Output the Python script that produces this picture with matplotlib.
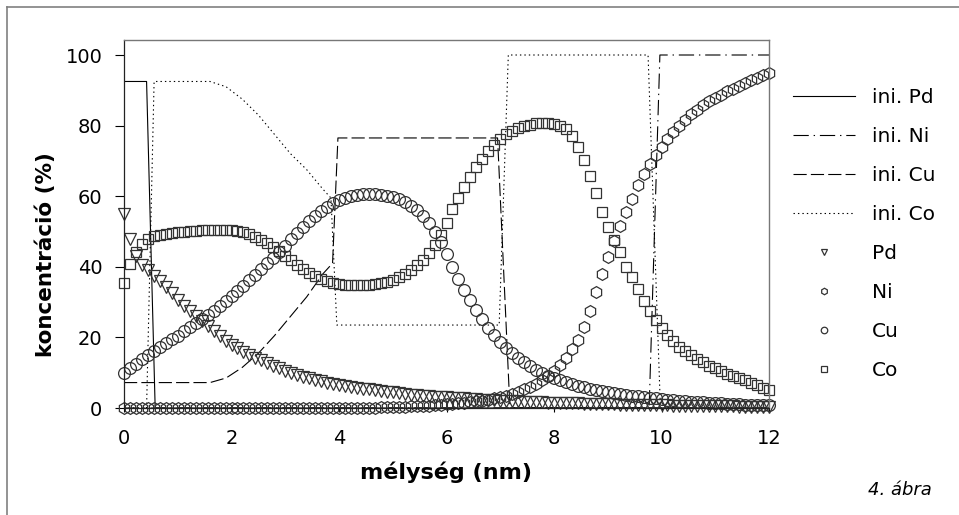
import numpy as np
import matplotlib
matplotlib.use("Agg")
import matplotlib.pyplot as plt
from matplotlib.lines import Line2D

plt.rcParams['font.family'] = ['DejaVu Sans']
plt.rcParams['lines.scale_dashes'] = False

# depth grid of the simulation (12 nm, step 1/9 nm)
depth = np.linspace(0, 12, 109)

# simulated profiles, one row of 9 values per nm, last value at 12 nm
pd_conc = [55.0, 48.0, 43.0, 40.5, 39.0, 37.5, 36.0, 34.3, 32.5,
           30.6, 29.0, 27.5, 26.0, 24.6, 23.2, 21.8, 20.4, 19.0,
           17.8, 16.9, 16.0, 15.1, 14.3, 13.5, 12.7, 12.0, 11.3,
           10.6, 10.0, 9.4, 8.9, 8.4, 8.0, 7.6, 7.2, 6.8,
           6.6, 6.3, 6.0, 5.8, 5.5, 5.3, 5.0, 4.8, 4.6,
           4.4, 4.2, 4.0, 3.8, 3.7, 3.5, 3.4, 3.2, 3.1,
           3.0, 2.9, 2.8, 2.7, 2.6, 2.5, 2.4, 2.3, 2.2,
           2.1, 2.0, 1.95, 1.9, 1.8, 1.75, 1.7, 1.6, 1.55,
           1.5, 1.45, 1.4, 1.35, 1.3, 1.25, 1.2, 1.15, 1.1,
           1.05, 1.0, 0.95, 0.9, 0.88, 0.85, 0.82, 0.8, 0.77,
           0.74, 0.71, 0.68, 0.65, 0.62, 0.6, 0.57, 0.55, 0.52,
           0.5, 0.48, 0.46, 0.44, 0.42, 0.4, 0.38, 0.36, 0.34,
           0.32]

ni_conc = [0, 0, 0, 0, 0, 0, 0, 0, 0,
           0, 0, 0, 0, 0, 0, 0, 0, 0,
           0, 0, 0, 0, 0, 0, 0, 0, 0,
           0, 0, 0, 0, 0, 0, 0, 0, 0,
           0, 0, 0, 0, 0.05, 0.1, 0.1, 0.15, 0.2,
           0.25, 0.3, 0.35, 0.45, 0.5, 0.6, 0.7, 0.8, 0.9,
           1.0, 1.15, 1.3, 1.45, 1.65, 1.85, 2.1, 2.4, 2.7,
           3.1, 3.5, 4.0, 4.6, 5.3, 6.0, 6.9, 7.9, 9.0,
           10.5, 12.2, 14.2, 16.6, 19.4, 23.0, 27.5, 33.0, 38.0,
           42.8, 47.2, 51.6, 55.6, 59.3, 63.1, 66.3, 69.0, 71.8,
           74.0, 76.1, 78.2, 80.0, 81.7, 83.2, 84.5, 85.8, 86.9,
           87.9, 88.8, 89.7, 90.5, 91.3, 92.0, 92.8, 93.5, 94.2,
           94.9]

cu_conc = [10.0, 11.3, 12.6, 13.9, 15.0, 16.2, 17.3, 18.4, 19.5,
           20.5, 21.7, 22.9, 24.0, 25.2, 26.4, 27.6, 28.9, 30.2,
           31.6, 33.1, 34.6, 36.2, 37.8, 39.4, 41.0, 42.6, 44.2,
           46.0, 47.8, 49.6, 51.3, 52.9, 54.4, 55.8, 57.0, 58.1,
           59.0, 59.6, 60.0, 60.3, 60.5, 60.6, 60.6, 60.4, 60.1,
           59.7, 59.1, 58.3, 57.3, 56.0, 54.4, 52.4, 49.9, 47.0,
           43.5, 40.0, 36.6, 33.4, 30.6, 27.9, 25.2, 22.8, 20.6,
           18.7, 17.0, 15.5, 14.2, 13.0, 11.9, 10.9, 10.0, 9.2,
           8.5, 7.9, 7.3, 6.8, 6.3, 5.9, 5.5, 5.1, 4.8,
           4.5, 4.2, 4.0, 3.7, 3.5, 3.3, 3.1, 2.9, 2.7,
           2.5, 2.3, 2.2, 2.0, 1.9, 1.8, 1.7, 1.6, 1.5,
           1.4, 1.3, 1.2, 1.1, 1.0, 0.95, 0.9, 0.85, 0.8,
           0.75]

co_conc = [35.5, 40.8, 44.3, 46.4, 48.0, 48.6, 49.1, 49.4, 49.6,
           49.8, 50.0, 50.1, 50.2, 50.3, 50.4, 50.4, 50.5, 50.5,
           50.4, 50.2, 49.8, 49.2, 48.5, 47.7, 46.8, 45.7, 44.5,
           43.2, 41.8, 40.5, 39.3, 38.2, 37.3, 36.5, 35.9, 35.4,
           35.1, 34.9, 34.8, 34.8, 34.8, 34.9, 35.1, 35.4, 35.8,
           36.4, 37.1, 38.0, 39.1, 40.4, 42.0, 43.9, 46.1, 49.0,
           52.5, 56.3, 59.6, 62.6, 65.3, 68.2, 70.6, 72.7, 74.6,
           76.2, 77.5, 78.5, 79.3, 79.9, 80.3, 80.6, 80.7, 80.7,
           80.5, 80.0, 79.0, 77.0, 74.0, 70.2, 65.6, 60.8, 55.6,
           51.2, 47.6, 44.2, 40.0, 37.0, 33.6, 30.4, 27.6, 25.0,
           22.6, 20.6, 18.9, 17.4, 16.1, 14.9, 13.8, 12.9, 12.0,
           11.2, 10.4, 9.7, 9.0, 8.4, 7.8, 7.2, 6.6, 5.8,
           5.0]

# initial layer profiles (vertices of piecewise linear lines)
ini_pd_x = [0, 0.42, 0.58, 12]
ini_pd_y = [92.5, 92.5, 0, 0]
ini_ni_x = [0, 9.77, 9.97, 12]
ini_ni_y = [0, 0, 100, 100]
ini_cu_x = [0, 1.6, 1.9, 2.2, 2.5, 2.8, 3.1, 3.4, 3.7, 3.88, 3.98, 6.95, 7.18, 12]
ini_cu_y = [7.2, 7.2, 8.5, 11.5, 15.5, 20.5, 26.0, 31.5, 38.0, 41.0, 76.5, 76.5, 0, 0]
ini_co_x = [0, 0.42, 0.56, 1.6, 1.9, 2.2, 2.5, 2.8, 3.1, 3.4, 3.7, 3.85, 3.96, 6.98, 7.15, 9.75, 9.98, 12]
ini_co_y = [0, 0, 92.5, 92.5, 91.0, 87.5, 83.0, 77.5, 72.0, 67.5, 62.0, 59.5, 23.5, 23.5, 100, 100, 0, 0]

W, H = 959, 515
fig = plt.figure(figsize=(W / 100, H / 100), dpi=100)
ax = fig.add_axes([124 / W, 1 - 408 / H, (769 - 124) / W, (408 - 40) / H])

lw = 0.8
ax.plot(ini_pd_x, ini_pd_y, color='black', lw=lw, ls='-', label='ini. Pd')
ax.plot(ini_ni_x, ini_ni_y, color='black', lw=lw, ls=(0, (11, 3.5, 1, 3.5)), label='ini. Ni')
ax.plot(ini_cu_x, ini_cu_y, color='black', lw=lw, ls=(0, (9.5, 3)), label='ini. Cu')
ax.plot(ini_co_x, ini_co_y, color='black', lw=lw, ls=(0, (1, 2.2)), label='ini. Co')

mk = dict(ls='none', mfc='none', mec='#333333', mew=0.9, clip_on=False)
ax.plot(depth, pd_conc, marker='v', ms=8.5, label='Pd', **mk)
ax.plot(depth, ni_conc, marker='h', ms=8.5, label='Ni', **mk)
ax.plot(depth, cu_conc, marker='o', ms=8.5, label='Cu', **mk)
ax.plot(depth, co_conc, marker='s', ms=7.5, label='Co', **mk)

ax.set_xlim(0, 12)
ax.set_ylim(0, 104.25)
ax.set_xticks(range(0, 13, 2))
ax.set_yticks(range(0, 101, 20))
ax.tick_params(axis='y', direction='out', length=6.5, width=0.8, pad=9, labelsize=14)
ax.tick_params(axis='x', direction='out', length=3, width=0.8, pad=12, labelsize=14)
for side in ['left', 'bottom']:
    ax.spines[side].set_color('#222222')
    ax.spines[side].set_linewidth(0.9)
for side in ['top', 'right']:
    ax.spines[side].set_color('#777777')
    ax.spines[side].set_linewidth(1.0)

fig.text(446.5 / W, 1 - 472 / H, 'mélység (nm)', ha='center', va='center',
         fontsize=16, fontweight='bold')
fig.text(46 / W, 1 - 255 / H, 'koncentráció (%)', ha='center', va='center',
         rotation=90, fontsize=15.5, fontweight='bold')
fig.text(868 / W, 1 - 495 / H, '4. ábra', ha='left', va='baseline',
         fontsize=13, style='italic')

leg = ax.legend(loc='upper left', bbox_to_anchor=(793 / W, 1 - 88 / H),
                bbox_transform=fig.transFigure, frameon=False, fontsize=14.5,
                handlelength=3.1, handletextpad=0.8, labelspacing=0.99,
                markerscale=0.55, borderaxespad=0, borderpad=0)

# figure border (left and top edges only are visible)
fig.add_artist(Line2D([7 / W, 7 / W], [0, 1 - 7 / H], color='#808080', lw=1.2))
fig.add_artist(Line2D([7 / W, 1], [1 - 7 / H, 1 - 7 / H], color='#808080', lw=1.2))

fig.savefig('out.png', dpi=100)
